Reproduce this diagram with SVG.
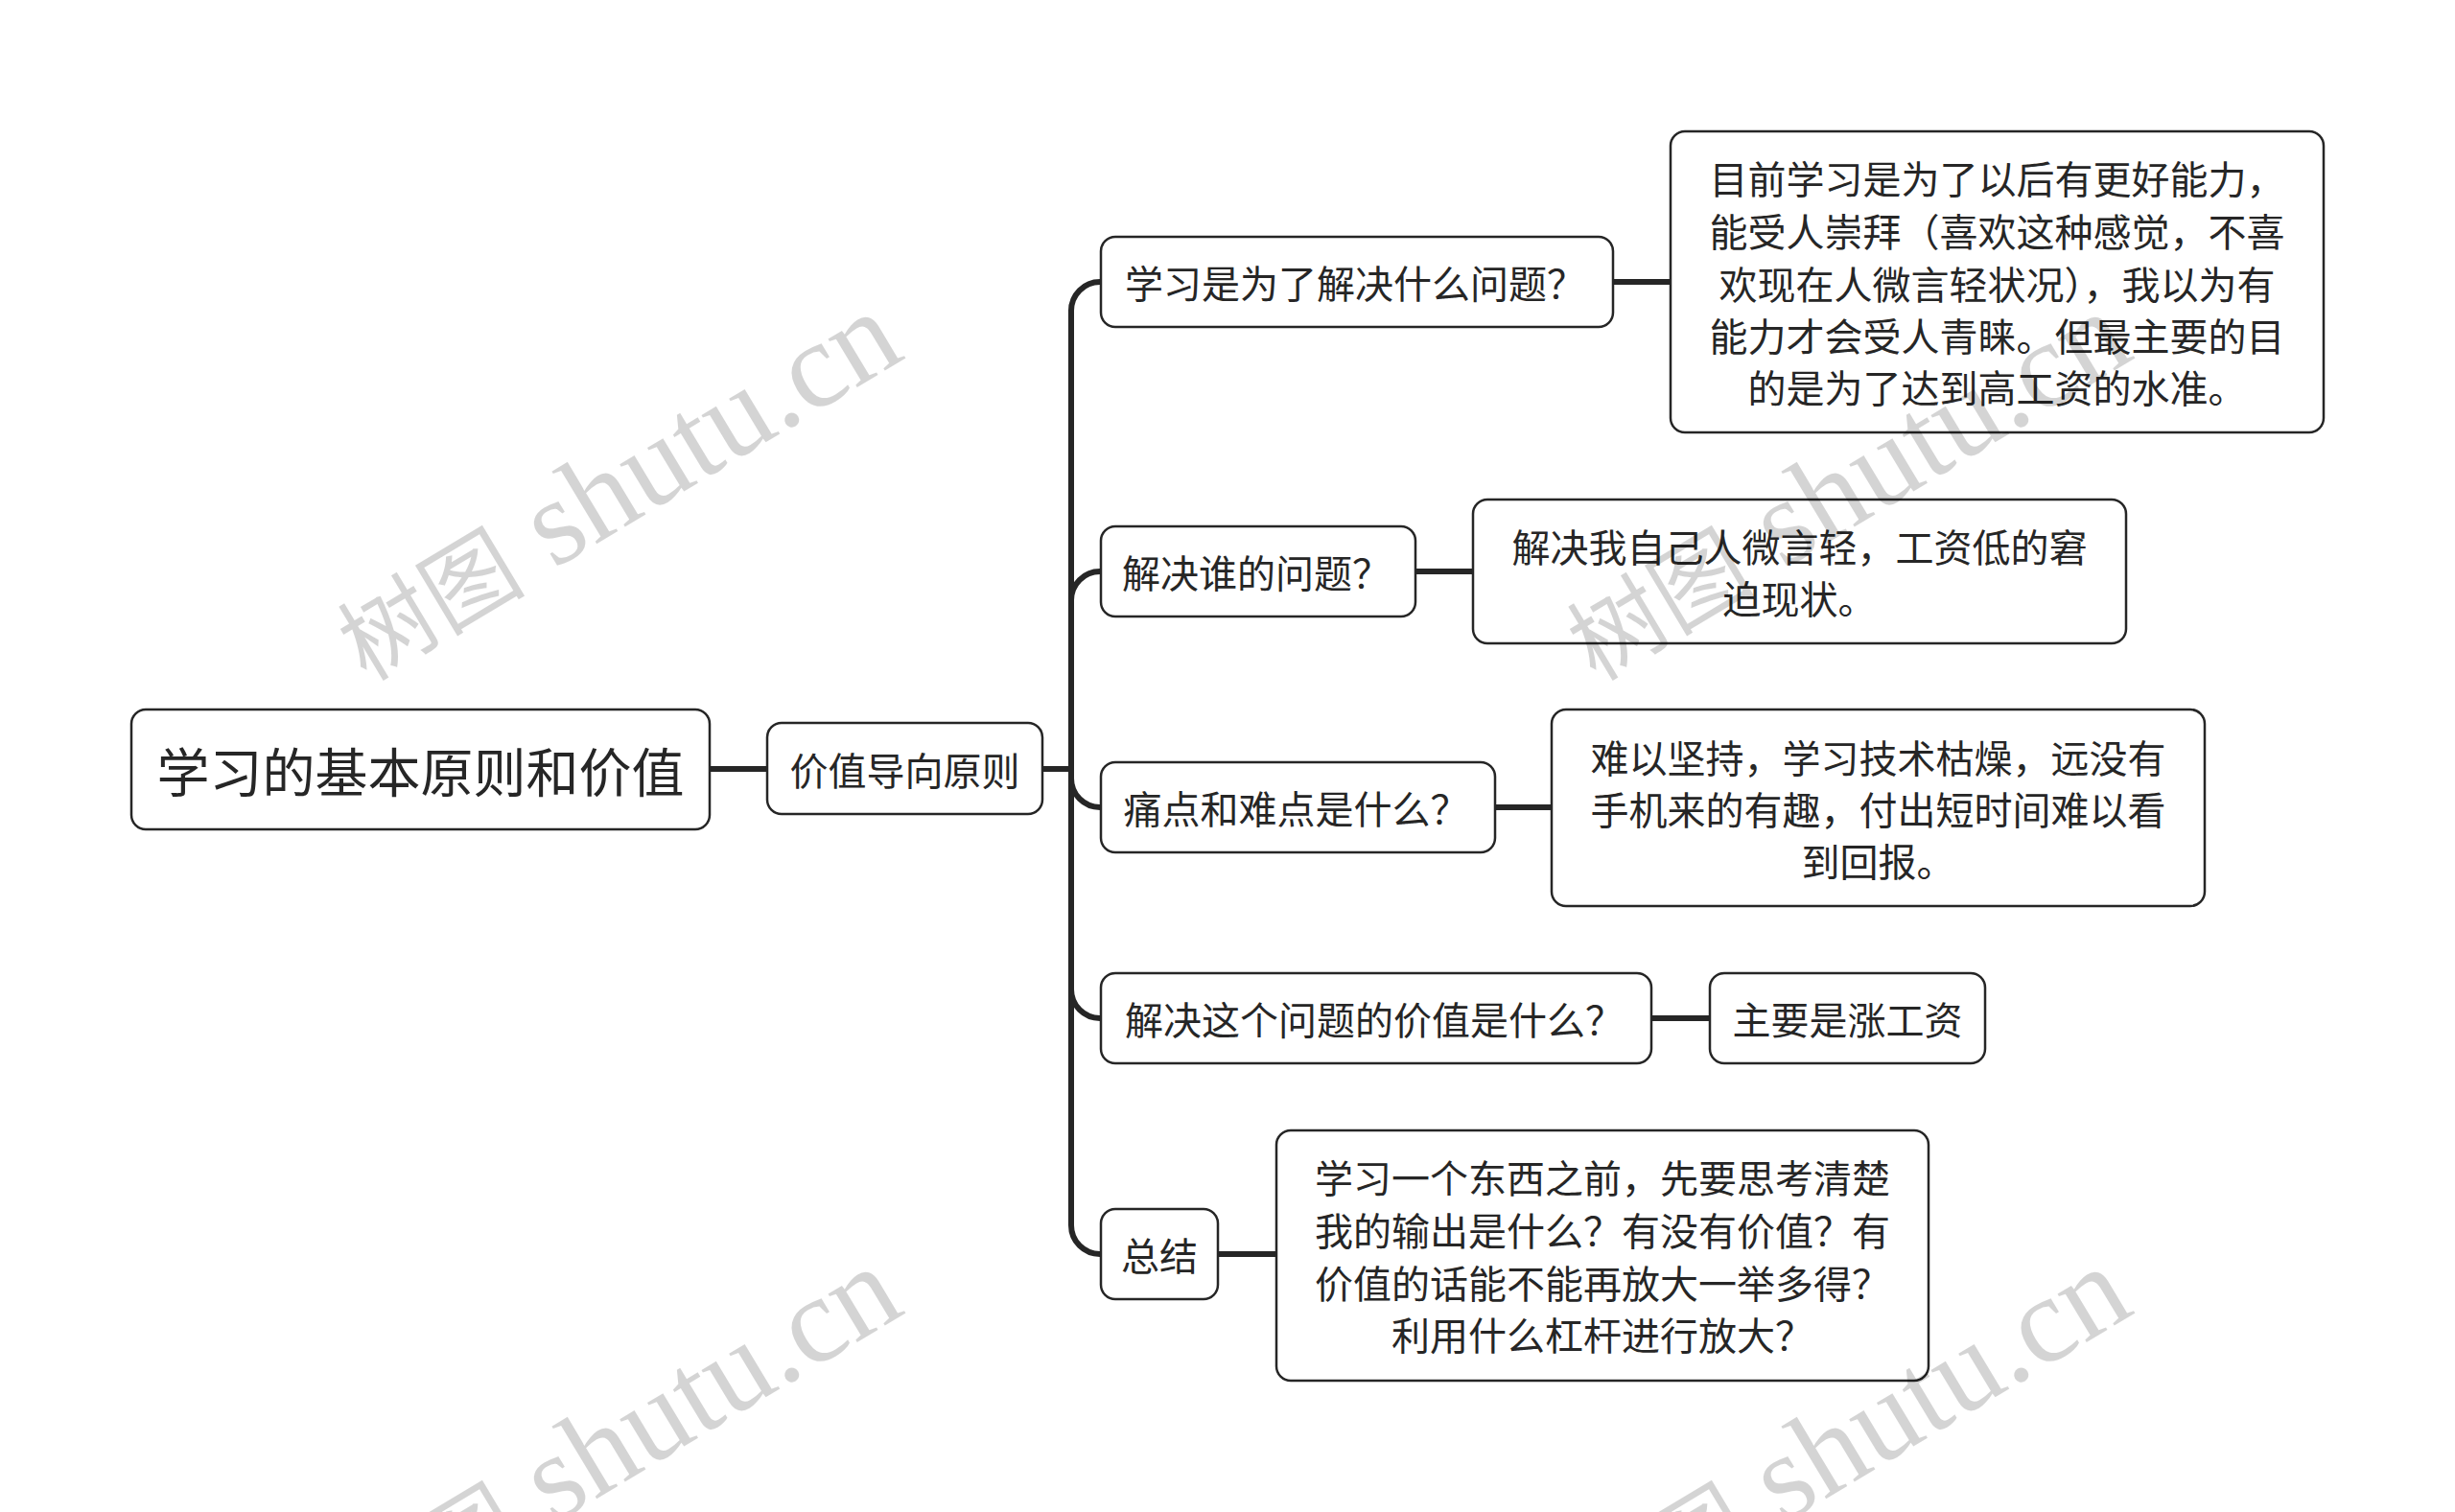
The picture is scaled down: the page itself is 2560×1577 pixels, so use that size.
<svg xmlns="http://www.w3.org/2000/svg" width="2560" height="1577" viewBox="0 0 2560 1577">
<style>
.box{fill:#fff;stroke:#262626;stroke-width:2.5}
.t{font-family:"Noto Sans CJK SC","Noto Sans",sans-serif;fill:#262626;text-anchor:middle;dominant-baseline:central}
.f40{font-size:40px}
.f55{font-size:55px}
.conn path{fill:none;stroke:#262626;stroke-width:6}
.wm{font-family:"Liberation Serif","Noto Sans CJK SC",serif;font-size:128px;fill:#000;fill-opacity:0.17;text-anchor:middle}
.wm .zh{font-size:98px}
</style>
<rect width="2560" height="1577" fill="#fff"/>
<g id="connectors" class="conn">
<path d="M740 802 H800"/>
<path d="M1087 802 H1117"/>
<path d="M1117 802 V324 A30 30 0 0 1 1147 294"/>
<path d="M1117 802 V626 A30 30 0 0 1 1147 596"/>
<path d="M1117 802 V812 A30 30 0 0 0 1147 842"/>
<path d="M1117 802 V1032 A30 30 0 0 0 1147 1062"/>
<path d="M1117 802 V1278 A30 30 0 0 0 1147 1308"/>
<path d="M1682 294 H1742"/>
<path d="M1476 596 H1536"/>
<path d="M1559 842 H1618"/>
<path d="M1722 1062 H1783"/>
<path d="M1270 1308 H1331"/>
</g>
<g id="root">
<rect class="box" x="137" y="740" width="603" height="125" rx="15"/>
<text class="t f55" x="438.5" y="802">学习的基本原则和价值</text>
</g>
<g id="main">
<rect class="box" x="800" y="754" width="287" height="95" rx="15"/>
<text class="t f40" x="943.5" y="802">价值导向原则</text>
</g>
<g id="q1">
<rect class="box" x="1148" y="247" width="534" height="94" rx="15"/>
<text class="t f40" x="1413" y="294">学习是为了解决什么问题？</text>
</g>
<g id="q2">
<rect class="box" x="1148" y="549" width="328" height="94" rx="15"/>
<text class="t f40" x="1310" y="596">解决谁的问题？</text>
</g>
<g id="q3">
<rect class="box" x="1148" y="795" width="411" height="94" rx="15"/>
<text class="t f40" x="1351.5" y="842">痛点和难点是什么？</text>
</g>
<g id="q4">
<rect class="box" x="1148" y="1015" width="574" height="94" rx="15"/>
<text class="t f40" x="1433" y="1062">解决这个问题的价值是什么？</text>
</g>
<g id="q5">
<rect class="box" x="1148" y="1261" width="122" height="94" rx="15"/>
<text class="t f40" x="1209" y="1308">总结</text>
</g>
<g id="a1">
<rect class="box" x="1742" y="137" width="681" height="314" rx="15"/>
<text class="t f40" x="2082.5" y="185">目前学习是为了以后有更好能力，</text>
<text class="t f40" x="2082.5" y="240">能受人崇拜（喜欢这种感觉，不喜</text>
<text class="t f40" x="2082.5" y="295">欢现在人微言轻状况），我以为有</text>
<text class="t f40" x="2082.5" y="349">能力才会受人青睐。但最主要的目</text>
<text class="t f40" x="2082.5" y="403">的是为了达到高工资的水准。</text>
</g>
<g id="a2">
<rect class="box" x="1536" y="521" width="681" height="150" rx="15"/>
<text class="t f40" x="1876.5" y="569">解决我自己人微言轻，工资低的窘</text>
<text class="t f40" x="1876.5" y="623">迫现状。</text>
</g>
<g id="a3">
<rect class="box" x="1618" y="740" width="681" height="205" rx="15"/>
<text class="t f40" x="1958.5" y="789">难以坚持，学习技术枯燥，远没有</text>
<text class="t f40" x="1958.5" y="843">手机来的有趣，付出短时间难以看</text>
<text class="t f40" x="1958.5" y="897">到回报。</text>
</g>
<g id="a4">
<rect class="box" x="1783" y="1015" width="287" height="94" rx="15"/>
<text class="t f40" x="1926.5" y="1062">主要是涨工资</text>
</g>
<g id="a5">
<rect class="box" x="1331" y="1179" width="680" height="261" rx="15"/>
<text class="t f40" x="1671" y="1227">学习一个东西之前，先要思考清楚</text>
<text class="t f40" x="1671" y="1282">我的输出是什么？有没有价值？有</text>
<text class="t f40" x="1671" y="1337">价值的话能不能再放大一举多得？</text>
<text class="t f40" x="1671" y="1391">利用什么杠杆进行放大？</text>
</g>
<g id="watermarks">
<text class="wm" transform="translate(664 542) rotate(-31)"><tspan class="zh">树图</tspan> shutu.cn</text>
<text class="wm" transform="translate(1946 542) rotate(-31)"><tspan class="zh">树图</tspan> shutu.cn</text>
<text class="wm" transform="translate(664 1538) rotate(-31)"><tspan class="zh">树图</tspan> shutu.cn</text>
<text class="wm" transform="translate(1946 1538) rotate(-31)"><tspan class="zh">树图</tspan> shutu.cn</text>
</g>
</svg>
